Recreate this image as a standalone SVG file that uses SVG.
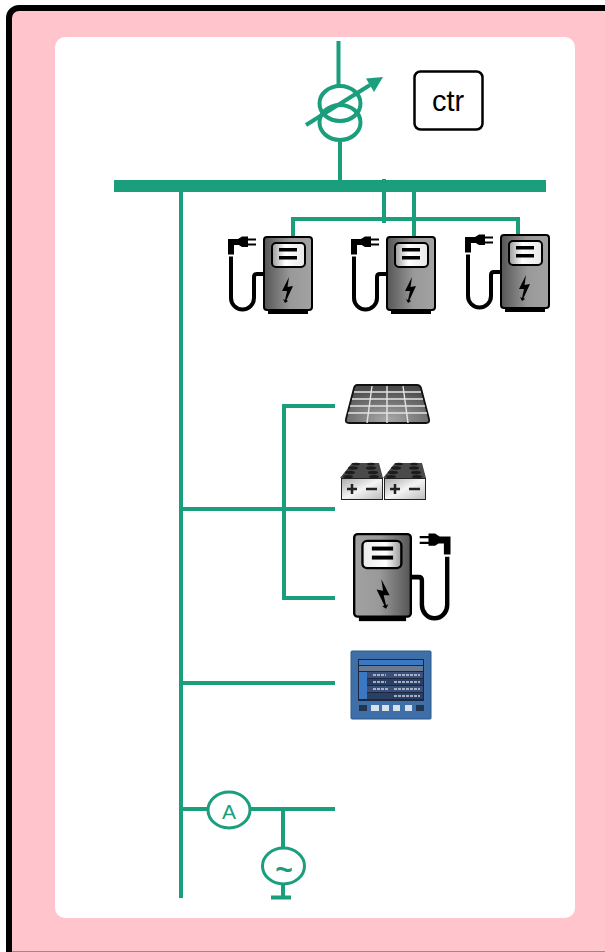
<svg xmlns="http://www.w3.org/2000/svg" width="605" height="952" viewBox="0 0 605 952">
<style>
.w{fill:none;stroke:#1a9e7c;stroke-width:4}
.sym{fill:#fff;stroke:#1a9e7c;stroke-width:3}
.k{fill:none;stroke:#000;stroke-width:4}
.t{font-family:"Liberation Sans",Arial,sans-serif}
</style>
<defs>
<filter id="soft" x="-5%" y="-5%" width="110%" height="110%"><feGaussianBlur stdDeviation="0.45"/></filter>
<filter id="soft2" x="-5%" y="-5%" width="110%" height="110%"><feGaussianBlur stdDeviation="0.6"/></filter>
<linearGradient id="body" x1="0" x2="1" y1="0" y2="0"><stop offset="0" stop-color="#555"/><stop offset=".55" stop-color="#999"/><stop offset="1" stop-color="#a2a2a2"/></linearGradient>
<linearGradient id="scr" x1="0" x2="1" y1="0" y2="0"><stop offset="0" stop-color="#999"/><stop offset=".4" stop-color="#fff"/><stop offset="1" stop-color="#e8e8e8"/></linearGradient>
<radialGradient id="sol" cx=".5" cy=".9" r=".8"><stop offset="0" stop-color="#a8a8a8"/><stop offset="1" stop-color="#4c4c4c"/></radialGradient>
<linearGradient id="bat" x1="0" x2="1" y1="0" y2="1"><stop offset="0" stop-color="#aaa"/><stop offset=".5" stop-color="#f4f4f4"/><stop offset="1" stop-color="#bbb"/></linearGradient>
<g id="chargerBody">
<rect x="5" y="74" width="40" height="4" fill="#000"/>
<rect x="1" y="1" width="48" height="73" rx="3" fill="url(#body)" stroke="#000" stroke-width="2"/>
<rect x="9" y="7" width="33" height="24" rx="4" fill="url(#scr)" stroke="#000" stroke-width="2"/>
<rect x="16" y="12" width="18" height="3.500" fill="#000"/>
<rect x="16" y="20" width="18" height="3.500" fill="#000"/>
<path d="M26 41 L19 55 L24 55 L22 64 L20 63 L22 67 L25 65 L23.500 64 L30 50 L24.500 51 Z" fill="#000"/>
</g>
<g id="chargerCable">
<path class="k" d="M0 38 H-6 Q-9 38 -9 41 V62 A11.500 11.500 0 0 1 -32 62 V20.500"/>
<path d="M-32 18.500 V6 H-24" fill="none" stroke="#000" stroke-width="6"/>
<path d="M-25 3 L-21 0.500 H-15 V2.500 H-7 V4.500 H-15 V7.500 H-7 V9.500 H-15 V11 H-21 L-25 8.500 Z" fill="#000"/>
</g>
<g id="charger"><use href="#chargerBody"/><use href="#chargerCable"/></g>
<g id="cell">
<path d="M-1 16 L11 1 H38 L42 16 Z" fill="#4a4a4a"/>
<g fill="#1c1c1c"><ellipse cx="15" cy="2" rx="4" ry="1.300"/><ellipse cx="30" cy="2" rx="4" ry="1.300"/>
<ellipse cx="12" cy="6" rx="5" ry="1.700"/><ellipse cx="30" cy="6" rx="5" ry="1.700"/>
<ellipse cx="9" cy="10.500" rx="5" ry="1.800"/><ellipse cx="32" cy="10.500" rx="5" ry="1.800"/>
<ellipse cx="7" cy="14.500" rx="5" ry="1.600"/><ellipse cx="33" cy="14.500" rx="5" ry="1.600"/></g>
<rect x="0.500" y="16.500" width="41" height="21" fill="url(#bat)" stroke="#222"/>
<path d="M6 27 H16 M11 22 V32 M25 27 H36" stroke="#222" stroke-width="2.500" fill="none"/>
</g>
</defs>
<g id="frame">
<rect x="9" y="8" width="620" height="960" rx="10" fill="#ffc4cc" stroke="#000" stroke-width="6"/>
<path d="M12 951.500 H605" stroke="#b08088" stroke-width="1"/>
<rect x="55" y="37" width="520" height="881" rx="10" fill="#fff"/>
</g>
<g id="connectors">
<rect x="114" y="180" width="432" height="12" fill="#1a9e7c"/>
<path class="w" d="M338.500 41 V86 M340 141 V180"/>
<path class="w" d="M293 236 V219 H518 V234 M384 179 V223 M414 192 V236"/>
<path class="w" d="M181 192 V898 M181 509 H335 M335 406 H284 V598 H335 M181 683 H335 M181 809 H208 M250 809 H335 M283 809 V848 M283 884 V896"/>
<path d="M271 897.500 H291" stroke="#1a9e7c" stroke-width="4" fill="none"/>
</g>
<g id="transformer">
<ellipse class="w" cx="340" cy="103.500" rx="20.500" ry="17.500"/>
<ellipse class="w" cx="340" cy="122.500" rx="20.500" ry="17.500"/>
<path class="w" d="M306 125 L370 85"/>
<path d="M383 77 L366 78.500 L374 92 Z" fill="#1a9e7c"/>
</g>
<g id="ctr">
<rect x="414.500" y="71.500" width="68" height="58" rx="6" fill="#fff" stroke="#000" stroke-width="2.500"/>
<text class="t" x="448" y="111" font-size="29" text-anchor="middle">ctr</text>
</g>
<g id="charger1"><use href="#charger" x="263" y="236"/></g>
<g id="charger2"><use href="#charger" x="386" y="236"/></g>
<g id="charger3"><use href="#charger" x="500" y="234"/></g>
<g id="solar">
<path d="M357 385 H417 Q420 385 421 388 L429 419 Q430 423 426 423 H349 Q345 423 346 419 L354 388 Q355 385 357 385 Z" fill="url(#sol)" stroke="#111" stroke-width="1.800"/>
<path d="M354 392 H421 M352 399 H423 M350 406 H425 M348 413 H427 M372 386 L367 423 M387 386 V423 M403 386 L408 423" stroke="#e4e4e4" stroke-width="1.400" fill="none" filter="url(#soft)"/>
</g>
<g id="battery">
<use href="#cell" x="341" y="462"/>
<use href="#cell" x="384" y="462"/>
</g>
<g id="charger4">
<use href="#chargerBody" transform="translate(412 533) scale(-1.180 1.130)"/>
<use href="#chargerCable" transform="translate(412 533) scale(-1.100 1.160)"/>
</g>
<g id="meter">
<rect x="351" y="651" width="80" height="68" rx="1" fill="#3f6fa8" stroke="#2d5a8c"/>
<g filter="url(#soft2)">
<rect x="358" y="659" width="66" height="42" fill="#1c2740"/>
<rect x="359" y="660" width="64" height="5" fill="#3a78c4"/>
<rect x="359" y="666" width="64" height="5" fill="#6a7a90"/>
<rect x="359" y="672" width="64" height="6" fill="#3a4f78"/>
<rect x="359" y="679" width="64" height="6" fill="#2c3f62"/>
<rect x="359" y="686" width="64" height="6" fill="#3a4f78"/>
<rect x="359" y="693" width="64" height="6" fill="#2c3f62"/>
<rect x="359" y="672" width="8" height="27" fill="#3a78c4"/>
<path d="M373 675 H386 M373 682 H386 M373 689 H388 M394 675 H420 M394 682 H420 M394 689 H420 M394 696 H420" stroke="#c8d2e2" stroke-width="1.500" stroke-dasharray="3 1" fill="none"/>
<g fill="#d8e0ea"><rect x="371" y="705" width="8" height="6"/><rect x="382" y="705" width="7" height="6"/><rect x="393" y="705" width="7" height="6"/><rect x="405" y="705" width="7" height="6"/></g>
<g fill="#24364e"><rect x="359" y="705" width="8" height="6"/><rect x="416" y="705" width="8" height="6"/></g>
</g>
</g>
<g id="ammeter">
<ellipse class="sym" cx="229" cy="810" rx="21" ry="18"/>
<text class="t" x="229" y="819" font-size="21" text-anchor="middle" fill="#1a9e7c">A</text>
</g>
<g id="generator">
<ellipse class="sym" cx="283.500" cy="866" rx="21" ry="18"/>
<text class="t" x="284" y="880" font-size="30" font-weight="bold" text-anchor="middle" fill="#1a9e7c">~</text>
</g>
</svg>
